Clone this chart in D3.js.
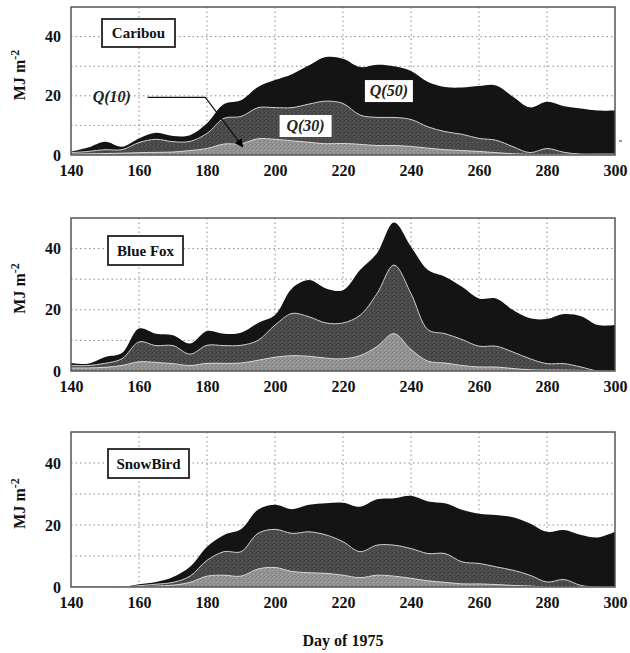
<!DOCTYPE html>
<html>
<head>
<meta charset="utf-8">
<script src="https://cdn.jsdelivr.net/npm/d3@7"></script>
<style>
  body { margin: 0; background: #fff; }
  text { font-family: "Liberation Serif", "DejaVu Serif", serif; font-weight: bold; }
</style>
</head>
<body>
<div class="canvas"></div>
<script>
// ---- DATA --- //
const days = d3.range(140, 301, 5);

const caribouQ50 = [1.1, 2.5, 4.5, 2.8, 5.6, 7.5, 6.4, 6.7, 10.7, 17.2, 18.5, 23, 25.3, 27.3, 30.3, 33.1, 32.5,
  29.7, 30.5, 30, 28.4, 24.7, 23, 22.8, 23.3, 23.5, 19.7, 16.1, 18, 16.5, 15.7, 15, 15];
const caribouQ30 = [0.8, 1.2, 1.8, 1.8, 4.2, 5.3, 4.5, 4.6, 7.3, 12.4, 13, 16, 16, 16, 17.2, 18.2, 17.4,
  13.5, 12.7, 12.7, 12, 9.5, 7.9, 7, 5.6, 5, 2.8, 0.8, 2.2, 0.9, 0.3, 0.3, 0.3];
const caribouQ10 = [0.3, 0.4, 0.5, 0.6, 0.8, 0.9, 1, 1.5, 2.2, 3.7, 3.8, 5.5, 5.3, 4.8, 4.3, 3.8, 3.9,
  3.6, 3.2, 3.2, 2.9, 2.3, 1.8, 1.5, 1.2, 0.8, 0.4, 0.2, 0.2, 0.2, 0.2, 0.2, 0.2];

const blueFoxQ50 = [2.6, 2.4, 4.6, 5.9, 13.9, 12.2, 11.7, 9, 13.1, 12.2, 12.5, 15.7, 18.3, 27, 29.7, 27, 26.4,
  33, 38.5, 48.5, 40.6, 33, 30.8, 27.5, 23.7, 23.7, 19.9, 17.2, 17, 18.6, 17.9, 15, 15];
const blueFoxQ30 = [1.8, 1.8, 2.5, 4, 9.5, 8.3, 8.3, 5.5, 8.4, 8.3, 8.4, 10, 15, 18.8, 17.7, 15.7, 15.7,
  18.2, 25.3, 34.6, 25.3, 13.5, 12.2, 10.3, 8.1, 8.1, 6.2, 4, 2.4, 2.4, 1.3, 0, 0];
const blueFoxQ10 = [1, 1, 1.2, 1.8, 3, 2.8, 2.4, 1.8, 2.5, 2.5, 2.6, 3.5, 4.5, 5, 4.8, 4.2, 4,
  5, 8, 12.2, 7, 3.2, 2.6, 1.8, 1.3, 1.3, 0.8, 0.4, 0.3, 0.3, 0.2, 0, 0];

const snowBirdQ50 = [0, 0, 0, 0, 0.9, 1.6, 3.2, 6.5, 13, 16.8, 18.6, 24.9, 26.5, 25.1, 26.5, 27, 27.2,
  25.9, 28.3, 28.6, 29.4, 27.6, 27, 24.9, 23.6, 23.2, 22.5, 20.5, 17.8, 18.4, 16.8, 16, 17.8];
const snowBirdQ30 = [0, 0, 0, 0, 0.4, 0.9, 1.5, 3.5, 8.6, 11.4, 11.4, 17.3, 18.6, 17.3, 17.8, 16.8, 14.6,
  11.4, 13.5, 13.5, 12.4, 10.8, 10.8, 8.1, 7.6, 6.5, 5.4, 3.8, 1.6, 2.4, 0.5, 0, 0];
const snowBirdQ10 = [0, 0, 0, 0, 0, 0.3, 0.6, 1.5, 3.5, 3.8, 3.5, 5.8, 6.3, 5, 4.6, 4.4, 3.8,
  3, 3.8, 3.5, 2.8, 2, 1.5, 1, 1, 0.8, 0.5, 0.3, 0, 0, 0, 0, 0];

const sites = ["Caribou", "Blue Fox", "SnowBird"];
const xTicks = [140, 160, 180, 200, 220, 240, 260, 280, 300];
const yTickLabels = [0, 20, 40];
const yGrid = [10, 20, 30, 40];


// ---- LAYOUT --- //
const width = 630, height = 653;
const left = 71, right = 615;
const panels = [
  { name: sites[0], top: 7, bottom: 155, q50: caribouQ50, q30: caribouQ30, q10: caribouQ10, box: [102, 19, 73, 28] },
  { name: sites[1], top: 218, bottom: 371, q50: blueFoxQ50, q30: blueFoxQ30, q10: blueFoxQ10, box: [108, 236, 75, 29] },
  { name: sites[2], top: 432, bottom: 587, q50: snowBirdQ50, q30: snowBirdQ30, q10: snowBirdQ10, box: [108, 449, 81, 29] }
];

const svg = d3.select('.canvas')
  .append('svg')
  .attr('width', width)
  .attr('height', height);

// stipple textures for the lower two bands
const defs = svg.append('defs');
const makePattern = (id, base, dark, light) => {
  const p = defs.append('pattern')
    .attr('id', id)
    .attr('width', 4).attr('height', 4)
    .attr('patternUnits', 'userSpaceOnUse');
  p.append('rect').attr('width', 4).attr('height', 4).attr('fill', base);
  [[0, 0], [2, 3], [3, 1]].forEach(d => p.append('rect').attr('x', d[0]).attr('y', d[1]).attr('width', 1).attr('height', 1).attr('fill', dark));
  [[1, 2], [2, 0]].forEach(d => p.append('rect').attr('x', d[0]).attr('y', d[1]).attr('width', 1).attr('height', 1).attr('fill', light));
};
makePattern('tex30', '#4b4b4b', '#3c3c3c', '#5c5c5c');
makePattern('tex10', '#939393', '#7f7f7f', '#a8a8a8');

const x = d3.scaleLinear().domain([140, 300]).range([left, right]);
const curve = d3.curveCatmullRom.alpha(0.5);

panels.forEach((p, i) => {
  const y = d3.scaleLinear().domain([0, 50]).range([p.bottom, p.top]);
  const g = svg.append('g');

  defs.append('clipPath').attr('id', 'clip' + i)
    .append('rect').attr('x', left).attr('y', p.top).attr('width', right - left).attr('height', p.bottom - p.top);

  // grid
  g.selectAll('.vgrid').data(xTicks.slice(1, -1)).enter().append('line')
    .attr('x1', d => x(d)).attr('x2', d => x(d))
    .attr('y1', p.top).attr('y2', p.bottom)
    .attr('stroke', '#8a8a8a').attr('stroke-width', 1).attr('stroke-dasharray', '1.5,3');
  g.selectAll('.hgrid').data(yGrid).enter().append('line')
    .attr('x1', left).attr('x2', right)
    .attr('y1', d => y(d)).attr('y2', d => y(d))
    .attr('stroke', '#8a8a8a').attr('stroke-width', 1).attr('stroke-dasharray', '1.5,3');

  const pts = (arr) => days.map((d, k) => ({ day: d, v: arr[k] }));
  const area = d3.area().x(d => x(d.day)).y0(y(0)).y1(d => y(d.v)).curve(curve);
  const line = d3.line().x(d => x(d.day)).y(d => y(d.v)).curve(curve);

  const layers = g.append('g').attr('clip-path', `url(#clip${i})`);
  layers.append('path').attr('d', area(pts(p.q50))).attr('fill', '#141414');
  layers.append('path').attr('d', area(pts(p.q30))).attr('fill', 'url(#tex30)');
  layers.append('path').attr('d', line(pts(p.q30))).attr('fill', 'none').attr('stroke', '#cfcfcf').attr('stroke-width', 1);
  layers.append('path').attr('d', area(pts(p.q10))).attr('fill', 'url(#tex10)');
  layers.append('path').attr('d', line(pts(p.q10))).attr('fill', 'none').attr('stroke', '#d8d8d8').attr('stroke-width', 1);

  // frame
  g.append('rect')
    .attr('x', left).attr('y', p.top)
    .attr('width', right - left).attr('height', p.bottom - p.top)
    .attr('fill', 'none').attr('stroke', '#555').attr('stroke-width', 1.5);

  // axes
  const xAxis = d3.axisBottom(x).tickValues(xTicks).tickSize(0).tickPadding(10).tickFormat(d3.format('d'));
  const yAxis = d3.axisLeft(y).tickValues(yTickLabels).tickSize(0).tickPadding(10);

  const xg = g.append('g').attr('transform', `translate(0,${p.bottom})`).call(xAxis);
  const yg = g.append('g').attr('transform', `translate(${left},0)`).call(yAxis);
  [xg, yg].forEach(a => {
    a.select('.domain').remove();
    a.selectAll('text').attr('font-size', 16).attr('fill', '#111')
      .style('font-family', '"Liberation Serif", serif').style('font-weight', 'bold');
  });

  // y label
  const yl = g.append('text')
    .attr('transform', `translate(25,${(p.top + p.bottom) / 2 - 6}) rotate(-90)`)
    .attr('text-anchor', 'middle')
    .attr('font-size', 16).attr('fill', '#111');
  yl.append('tspan').text('MJ m');
  yl.append('tspan').attr('dy', -6).attr('font-size', 12).text('-2');

  // site label box
  g.append('rect')
    .attr('x', p.box[0]).attr('y', p.box[1]).attr('width', p.box[2]).attr('height', p.box[3])
    .attr('fill', '#fff').attr('stroke', '#222').attr('stroke-width', 1.8);
  g.append('text')
    .attr('x', p.box[0] + p.box[2] / 2).attr('y', p.box[1] + p.box[3] / 2 + 5)
    .attr('text-anchor', 'middle').attr('font-size', 15).attr('fill', '#111')
    .text(p.name);

  // quantile annotations on the first panel
  if (i === 0) {
    defs.append('marker').attr('id', 'arrow')
      .attr('viewBox', '0 0 10 10').attr('refX', 9).attr('refY', 5)
      .attr('markerWidth', 7).attr('markerHeight', 7).attr('orient', 'auto')
      .append('path').attr('d', 'M0,0 L10,5 L0,10 z').attr('fill', '#000');

    g.append('text').attr('x', x(152)).attr('y', y(19.5) + 5)
      .attr('text-anchor', 'middle').attr('font-size', 16).attr('font-style', 'italic').attr('fill', '#222')
      .text('Q(10)');
    g.append('path')
      .attr('d', d3.line()([[x(162.5), y(19.5)], [x(179.5), y(19.5)], [x(190.5), y(2.8)]]))
      .attr('fill', 'none').attr('stroke', '#111').attr('stroke-width', 1.2)
      .attr('marker-end', 'url(#arrow)');

    [['Q(30)', 209, 9.8, 52, 22], ['Q(50)', 233.5, 21.6, 48, 22]].forEach(q => {
      g.append('rect')
        .attr('x', x(q[1]) - q[3] / 2).attr('y', y(q[2]) - q[4] / 2)
        .attr('width', q[3]).attr('height', q[4]).attr('fill', '#fff');
      g.append('text').attr('x', x(q[1])).attr('y', y(q[2]) + 5)
        .attr('text-anchor', 'middle').attr('font-size', 16).attr('font-style', 'italic').attr('fill', '#222')
        .text(q[0]);
    });

    // stray mark at the right of the first panel
    g.append('line').attr('x1', 619).attr('x2', 622).attr('y1', 141).attr('y2', 141)
      .attr('stroke', '#333').attr('stroke-width', 1);
  }
});

svg.append('text')
  .attr('x', (left + right) / 2).attr('y', 646)
  .attr('text-anchor', 'middle').attr('font-size', 16).attr('fill', '#111')
  .text('Day of 1975');
</script>
</body>
</html>
